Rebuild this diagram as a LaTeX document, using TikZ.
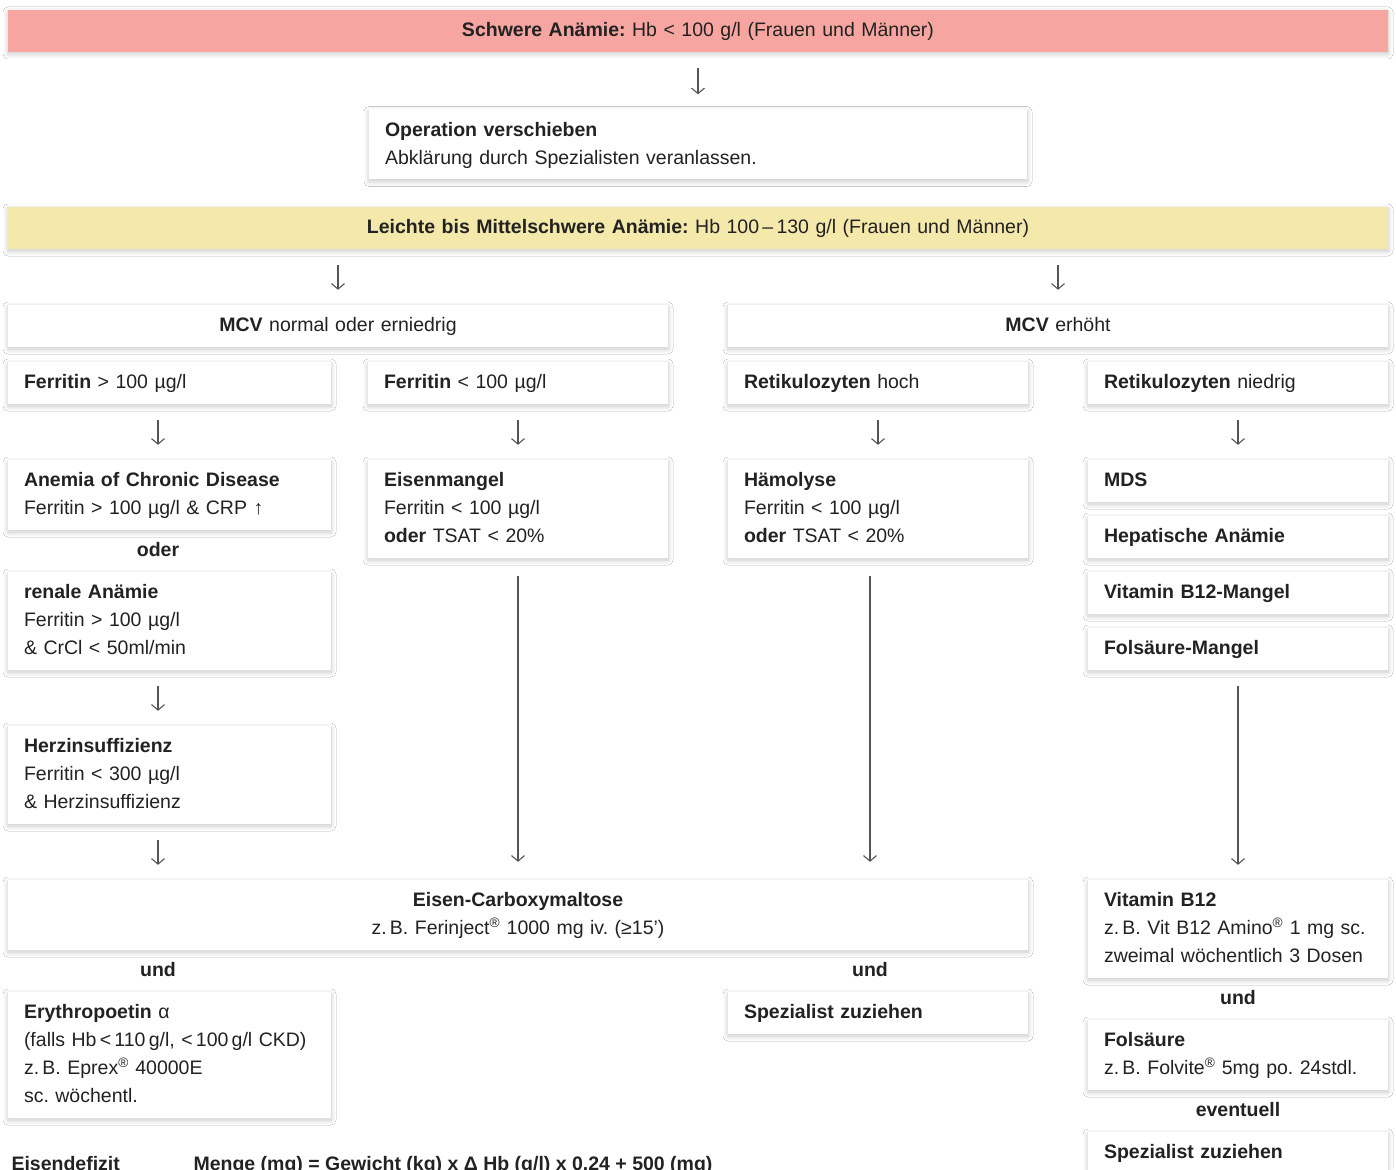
\documentclass[tikz,border=0pt]{standalone}
\usepackage{fontspec}
\setmainfont{Liberation Sans}
\usetikzlibrary{arrows.meta,shadows.blur}
\definecolor{redbar}{RGB}{246,165,160}
\definecolor{yellowbar}{RGB}{244,232,170}
\definecolor{ink}{RGB}{34,34,34}
\definecolor{wire}{RGB}{85,85,85}
\frenchspacing

\begin{document}
\begin{tikzpicture}[x=1pt,y=-1pt,
  every node/.style={font=\fontsize{19.5}{28}\selectfont,text=ink},
  box/.style={rectangle,fill=white,inner xsep=16pt,inner ysep=7pt,align=left,
    blur shadow={shadow xshift=0pt,shadow yshift=-2pt,shadow blur radius=5pt,shadow blur steps=10,shadow opacity=22},
    execute at begin node=\strut,execute at end node=\strut},
  bar/.style={box,text width=1348pt,align=center},
  half/.style={box,text width=628pt,align=center},
  small/.style={box,text width=268pt},
  lefty/.style={box,text width=291pt},
  link/.style={font=\fontsize{19.5}{28}\selectfont\bfseries},
  arr/.style={draw=wire,line width=1.1pt,-{Straight Barb[length=5.5pt,width=13pt]},
    shorten <=16pt,shorten >=15pt},
  longarr/.style={arr,shorten <=18pt,shorten >=18pt}]
\path[use as bounding box,fill=white] (0,0) rectangle (1396,1169);

% column axes
\coordinate (colA) at (158,0);
\coordinate (colC) at (870,0);

% top
\node (sev) at (698,31) [bar,fill=redbar] {\textbf{Schwere Anämie:} Hb < 100 g/l (Frauen und Männer)};
\node (op) at (698,144.5) [box,text width=626pt] {\textbf{Operation verschieben}\\Abklärung durch Spezialisten veranlassen.};
\node (mild) at (698,228) [bar,fill=yellowbar] {\textbf{Leichte bis Mittelschwere Anämie:} Hb 100\,–\,130 g/l (Frauen und Männer)};

% MCV
\node (mcvlow) at (338,326) [half] {\textbf{MCV} normal oder erniedrig};
\node (mcvhigh) at (1058,326) [half] {\textbf{MCV} erhöht};

\node (ferhi) at (169.5,383) [lefty] {\textbf{Ferritin} > 100 µg/l};
\node (ferlo) at (518,383) [small] {\textbf{Ferritin} < 100 µg/l};
\node (rethi) at (878,383) [small] {\textbf{Retikulozyten} hoch};
\node (retlo) at (1238,383) [small] {\textbf{Retikulozyten} niedrig};

% diagnoses
\node (acd) at (169.5,495) [lefty] {\textbf{Anemia of Chronic Disease}\\Ferritin > 100 µg/l \& CRP ↑};
\node (oder) at (158,550) [link] {oder};
\node (renal) at (169.5,621) [lefty] {\textbf{renale Anämie}\\Ferritin > 100 µg/l\\\& CrCl < 50ml/min};
\node (heart) at (169.5,775) [lefty] {\textbf{Herzinsuffizienz}\\Ferritin < 300 µg/l\\\& Herzinsuffizienz};
\node (iron) at (518,509) [small] {\textbf{Eisenmangel}\\Ferritin < 100 µg/l\\\textbf{oder} TSAT < 20\%};
\node (haem) at (878,509) [small] {\textbf{Hämolyse}\\Ferritin < 100 µg/l\\\textbf{oder} TSAT < 20\%};
\node (mds) at (1238,481) [small] {\textbf{MDS}};
\node (hep) at (1238,537) [small] {\textbf{Hepatische Anämie}};
\node (b12def) at (1238,593) [small] {\textbf{Vitamin B12-Mangel}};
\node (foldef) at (1238,649) [small] {\textbf{Folsäure-Mangel}};

% therapy
\node (fcm) at (518,915) [box,text width=988pt,align=center] {\textbf{Eisen-Carboxymaltose}\\z.\,B. Ferinject\textsuperscript{®} 1000 mg iv. (≥15')};
\node (und1) at (158,970) [link] {und};
\node (epo) at (169.5,1055) [lefty] {\textbf{Erythropoetin} α\\(falls Hb\,<\,110\,g/l, <\,100\,g/l CKD)\\z.\,B. Eprex\textsuperscript{®} 40000E\\sc. wöchentl.};
\node (und2) at (870,970) [link] {und};
\node (spec1) at (878,1013) [small] {\textbf{Spezialist zuziehen}};
\node (b12) at (1238,929) [small] {\textbf{Vitamin B12}\\z.\,B. Vit B12 Amino\textsuperscript{®} 1 mg sc.\\zweimal wöchentlich 3 Dosen};
\node (und3) at (1238,998) [link] {und};
\node (fol) at (1238,1055) [small] {\textbf{Folsäure}\\z.\,B. Folvite\textsuperscript{®} 5mg po. 24stdl.};
\node (evtl) at (1238,1110) [link] {eventuell};
\node (spec2) at (1238,1153) [small] {\textbf{Spezialist zuziehen}};

% formula
\node (defizit) at (8,1170) [anchor=base west,link] {Eisendefizit};
\node (menge) at (190,1170) [anchor=base west,link] {Menge (mg) = Gewicht (kg) x Δ Hb (g/l) x 0.24 + 500 (mg)};

% arrows
\draw[arr] (sev) -- (op);
\draw[arr] (mild.south -| mcvlow) -- (mcvlow);
\draw[arr] (mild.south -| mcvhigh) -- (mcvhigh);
\draw[arr] (ferhi.south -| colA) -- (acd.north -| colA);
\draw[arr] (ferlo) -- (iron);
\draw[arr] (rethi) -- (haem);
\draw[arr] (retlo) -- (mds);
\draw[arr] (renal.south -| colA) -- (heart.north -| colA);
\draw[arr] (heart.south -| colA) -- (fcm.north -| colA);
\draw[longarr] (iron) -- (fcm);
\draw[longarr] (haem.south -| colC) -- (fcm.north -| colC);
\draw[arr] (foldef) -- (b12);
\end{tikzpicture}
\end{document}
